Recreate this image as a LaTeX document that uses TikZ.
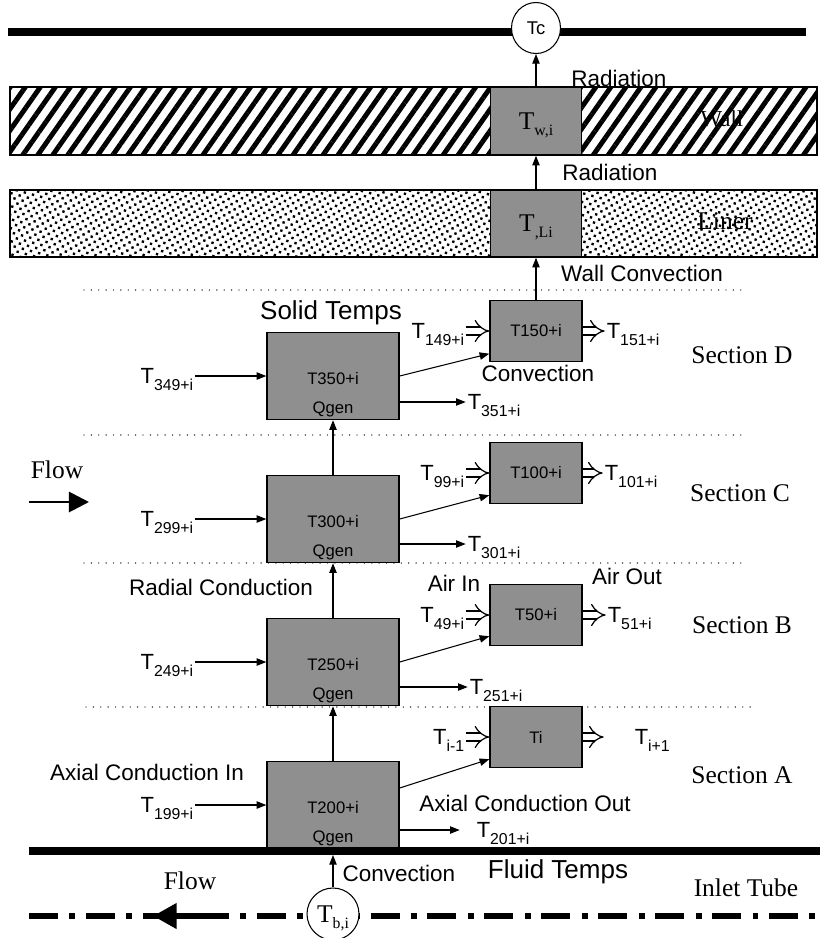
\documentclass[tikz,border=0pt]{standalone}
\usepackage{fontspec}
\setmainfont{Liberation Serif}
\setsansfont{Liberation Sans}
\usetikzlibrary{positioning, arrows.meta, patterns.meta, shapes.geometric}

\newcommand\tsub[1]{\smash{\raisebox{-4pt}{\fontsize{9}{9}\selectfont #1}}}
\newcommand\ssub[1]{\smash{\raisebox{-3.5pt}{\fontsize{9}{9}\selectfont #1}}}

\begin{document}
\begin{tikzpicture}[x=0.02cm, y=-0.02cm,
        lab/.style={font=\sffamily\fontsize{12.8}{14}\selectfont, inner sep=0pt},
        head/.style={font=\sffamily\fontsize{14.8}{16}\selectfont, inner sep=0pt},
        sec/.style={font=\fontsize{14.5}{16}\selectfont, inner sep=0pt},
        tin/.style={font=\sffamily\fontsize{12.5}{14}\selectfont, inner sep=1pt},
        cell/.style={draw, fill=black!44, line width=0.8pt, inner sep=0pt},
        solidcell/.style={cell, minimum width=2.64cm, minimum height=1.74cm, align=center,
                          font=\sffamily\fontsize{9.5}{16.5}\selectfont},
        fluidcell/.style={cell, minimum width=1.84cm, minimum height=1.22cm,
                          font=\sffamily\fontsize{9.5}{11}\selectfont},
        layer/.style={draw, line width=0.8pt, minimum width=16.14cm, inner sep=0pt},
        probe/.style={draw, ellipse, fill=white, line width=0.6pt, inner sep=0pt},
        arr/.style={-{Triangle[length=5.5pt,width=4.2pt]}, line width=0.6pt},
        dbl/.style={double, double distance=3.8pt, line width=0.7pt, -{Implies}},
        sepline/.style={line width=0.8pt, line cap=round, dash pattern=on 0pt off 4.2pt},
        pipe/.style={line width=4.6pt},
        centreline/.style={line width=3.2pt, dash pattern=on 16.5pt off 6.5pt on 3.4pt off 6pt}]
  \path[use as bounding box, fill=white] (0,0) rectangle (820,938);

  % casing, wall and liner
  \coordinate (caseL) at (8,32);
  \coordinate (caseR) at (806,32);
  \draw[pipe] (caseL) -- (caseR);
  \node[probe, minimum width=0.98cm, minimum height=1.02cm, font=\sffamily\fontsize{10.5}{12}\selectfont] (tc) at (536,28) {Tc};
  \node[layer, minimum height=1.36cm, pattern={Lines[angle=55,distance=7pt,line width=2.8pt]}] (wall) at (413.5,121) {};
  \node[layer, minimum height=1.34cm, pattern={Dots[angle=30,distance=3.4pt,radius=0.95pt]}] (liner) at (413.5,223.5) {};
  \node[sec, font=\fontsize{13}{14}\selectfont] (walltxt) at (722,119) {Wall};
  \node[sec] (linertxt) at (725,221) {Liner};
  \node[cell, minimum width=1.82cm, minimum height=1.36cm, font=\fontsize{14.5}{16}\selectfont] (twi) at (536,121) {T\ssub{w,i}};
  \node[cell, minimum width=1.82cm, minimum height=1.34cm, font=\fontsize{14.5}{16}\selectfont] (tli) at (536,223.5) {T\ssub{,Li}};
  \node[lab] (rad1) at (619,78) {Radiation};
  \node[lab] (rad2) at (610,172) {Radiation};
  \node[lab] (wconv) at (642,273) {Wall Convection};

  % section boundaries
  \draw[sepline] (84,290) -- (746,290);
  \draw[sepline] (84,435) -- (746,435);
  \draw[sepline] (84,563) -- (746,563);
  \draw[sepline] (86,707) -- (754,707);

  % solid and fluid cells
  \node[solidcell] (t350) at (333,376) {\strut\\T350+i\\Qgen};
  \node[solidcell] (t300) at (333,519) {\strut\\T300+i\\Qgen};
  \node[solidcell] (t250) at (333,662) {\strut\\T250+i\\Qgen};
  \node[solidcell] (t200) at (333,805) {\strut\\T200+i\\Qgen};
  \node[fluidcell] (t150) at (536,331) {T150+i};
  \node[fluidcell] (t100) at (536,473) {T100+i};
  \node[fluidcell] (t50) at (536,615) {T50+i};
  \node[fluidcell] (ti) at (536,737) {Ti};

  % axial conduction in / out
  \node[tin, anchor=east] (t349) at ([xshift=-1.42cm]t350.west) {T\tsub{349+i}};
  \node[tin, anchor=east] (t299) at ([xshift=-1.42cm]t300.west) {T\tsub{299+i}};
  \node[tin, anchor=east] (t249) at ([xshift=-1.42cm]t250.west) {T\tsub{249+i}};
  \node[tin, anchor=east] (t199) at ([xshift=-1.42cm]t200.west) {T\tsub{199+i}};
  \draw[arr] (t349) -- (t350);
  \draw[arr] (t299) -- (t300);
  \draw[arr] (t249) -- (t250);
  \draw[arr] (t199) -- (t200);
  \node[tin, anchor=west] (t351) at ([xshift=1.32cm,yshift=-0.52cm]t350.east) {T\tsub{351+i}};
  \node[tin, anchor=west] (t301) at ([xshift=1.32cm,yshift=-0.5cm]t300.east) {T\tsub{301+i}};
  \node[tin, anchor=west] (t251) at ([xshift=1.36cm,yshift=-0.5cm]t250.east) {T\tsub{251+i}};
  \node[tin, anchor=west] (t201) at ([xshift=1.5cm,yshift=-0.5cm]t200.east) {T\tsub{201+i}};
  \draw[arr] (t351 -| t350.east) -- (t351);
  \draw[arr] (t301 -| t300.east) -- (t301);
  \draw[arr] (t251 -| t250.east) -- (t251);
  \draw[arr] ([yshift=-0.5cm]t200.east) -- ++(1.2cm,0) coordinate (t201tip);

  % radial conduction and convection
  \draw[arr] (t200) -- (t250);
  \draw[arr] (t250) -- (t300);
  \draw[arr] (t300) -- (t350);
  \draw[arr] (t350.east) -- ([yshift=0.17cm]t150.south west);
  \draw[arr] (t300.east) -- ([yshift=0.18cm]t100.south west);
  \draw[arr] (t250.east) -- ([yshift=0.2cm]t50.south west);
  \draw[arr] ([yshift=0.34cm]t200.east) -- ([yshift=0.18cm]ti.south west);
  \draw[arr] (t150) -- (tli);
  \draw[arr] (tli) -- (twi);
  \draw[arr] (twi) -- (tc);

  % air in / out
  \node[tin, anchor=east] (t149) at ([xshift=-0.46cm]t150.west) {T\tsub{149+i}};
  \node[tin, anchor=east] (t99) at ([xshift=-0.46cm]t100.west) {T\tsub{99+i}};
  \node[tin, anchor=east] (t49) at ([xshift=-0.46cm]t50.west) {T\tsub{49+i}};
  \node[tin, anchor=east] (tim1) at ([xshift=-0.46cm]ti.west) {T\tsub{i-1}};
  \node[tin, anchor=west] (t151) at ([xshift=0.44cm]t150.east) {T\tsub{151+i}};
  \node[tin, anchor=west] (t101) at ([xshift=0.4cm]t100.east) {T\tsub{101+i}};
  \node[tin, anchor=west] (t51) at ([xshift=0.46cm]t50.east) {T\tsub{51+i}};
  \node[tin, anchor=west] (tip1) at ([xshift=1cm]ti.east) {T\tsub{i+1}};
  \coordinate (tiout) at ([xshift=0.42cm]ti.east);
  \draw[dbl] (t149) -- (t150);
  \draw[dbl] (t99) -- (t100);
  \draw[dbl] (t49) -- (t50);
  \draw[dbl] (tim1) -- (ti);
  \draw[dbl] (t150) -- (t151);
  \draw[dbl] (t100) -- (t101);
  \draw[dbl] (t50) -- (t51);
  \draw[dbl] (ti) -- (tiout);

  % labels
  \node[head] (solid) at (331,313) {Solid Temps};
  \node[lab] (conv1) at (538,373) {Convection};
  \node[lab] (airin) at (454,583) {Air In};
  \node[lab] (airout) at (627,576) {Air Out};
  \node[lab] (radc) at (221,587) {Radial Conduction};
  \node[lab] (axin) at (147,772) {Axial Conduction In};
  \node[lab] (axout) at (525,803) {Axial Conduction Out};
  \node[sec] (secD) at (742,355) {Section D};
  \node[sec] (secC) at (740,493) {Section C};
  \node[sec] (secB) at (742,625) {Section B};
  \node[sec] (secA) at (742,775) {Section A};
  \node[sec] (flow1) at (57,470) {Flow};
  \coordinate (flowA) at (29,502);
  \coordinate (flowB) at (89,502);
  \draw[-{Triangle[length=11.4pt,width=11.4pt]}, line width=1.6pt] (flowA) -- (flowB);

  % inlet tube
  \coordinate (tubeL) at (29,851);
  \coordinate (tubeR) at (820,851);
  \draw[pipe] (tubeL) -- (tubeR);
  \coordinate (axisL) at (29,916);
  \coordinate (axisR) at (820,916);
  \draw[centreline] (axisL) -- (axisR);
  \coordinate (backA) at (205,916);
  \coordinate (backB) at (153,916);
  \draw[-{Triangle[length=13.5pt,width=14pt]}, line width=3.2pt] (backA) -- (backB);
  \node[probe, minimum width=1.04cm, minimum height=1.04cm, font=\fontsize{14.5}{16}\selectfont] (tbi) at (333,914) {T\ssub{b,i}};
  \draw[arr] (tbi) -- ([yshift=-2.3pt]tbi |- tubeL);
  \node[lab] (conv2) at (399,873) {Convection};
  \node[head] (fluid) at (558,872) {Fluid Temps};
  \node[sec] (flow2) at (190,881) {Flow};
  \node[sec] (inlet) at (746,888) {Inlet Tube};
\end{tikzpicture}
\end{document}
